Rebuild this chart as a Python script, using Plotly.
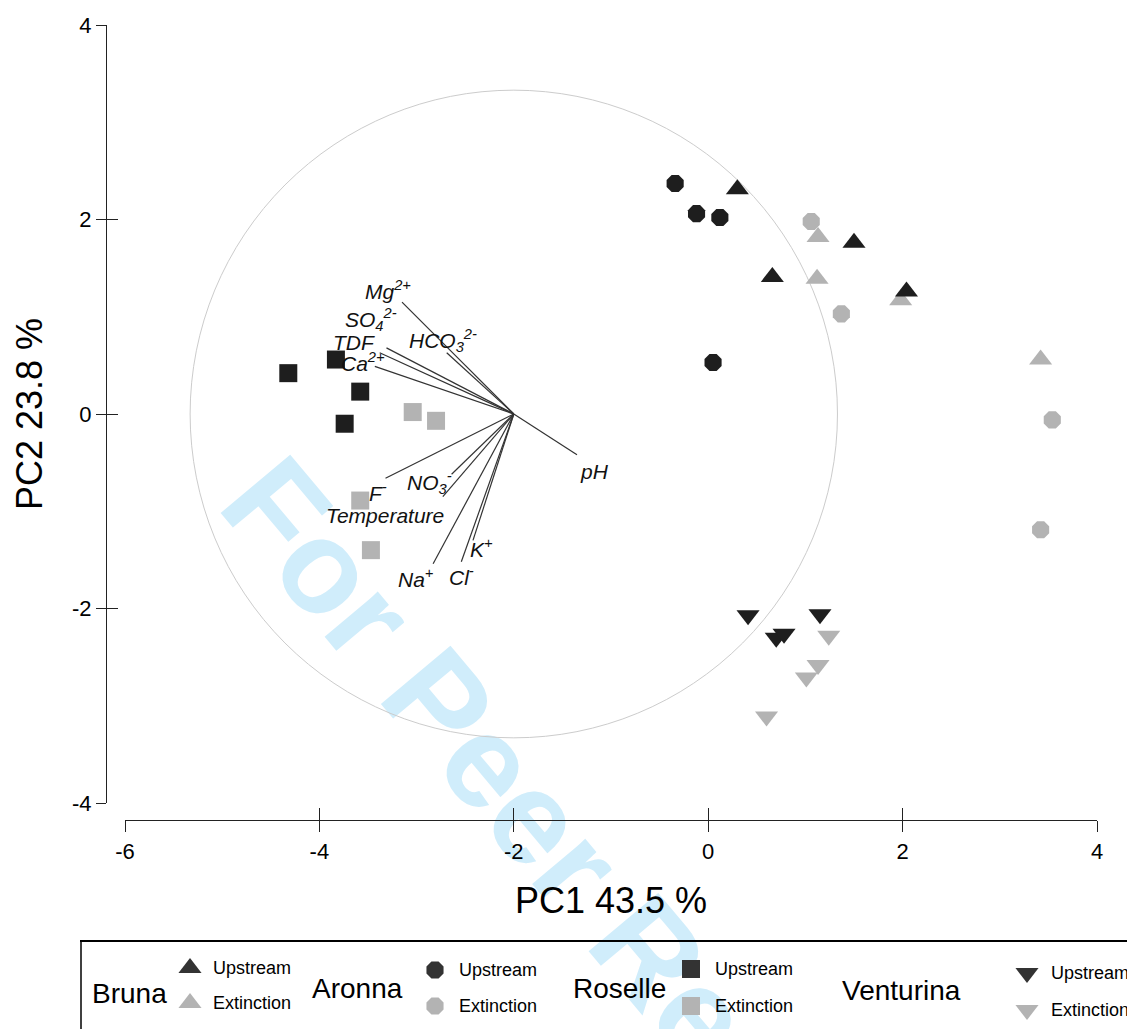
import plotly.graph_objects as go

W, H = 1127, 1029
FONT = "Liberation Sans, Arial, sans-serif"

# ---------------- data (PC scores) ----------------
bruna_up_x = [0.30, 0.66, 1.50, 2.04]
bruna_up_y = [2.31, 1.41, 1.76, 1.26]
bruna_ext_x = [1.13, 1.12, 1.98, 3.42]
bruna_ext_y = [1.82, 1.39, 1.17, 0.56]

aronna_up_x = [-0.34, -0.12, 0.12, 0.05]
aronna_up_y = [2.37, 2.06, 2.02, 0.53]
aronna_ext_x = [1.06, 1.37, 3.54, 3.42]
aronna_ext_y = [1.98, 1.03, -0.06, -1.19]

roselle_up_x = [-4.32, -3.83, -3.58, -3.74]
roselle_up_y = [0.42, 0.56, 0.23, -0.10]
roselle_ext_x = [-3.04, -2.80, -3.58, -3.47]
roselle_ext_y = [0.02, -0.07, -0.89, -1.40]

venturina_up_x = [0.41, 0.70, 0.78, 1.15]
venturina_up_y = [-2.07, -2.30, -2.26, -2.06]
venturina_ext_x = [1.24, 1.13, 1.01, 0.60]
venturina_ext_y = [-2.28, -2.58, -2.71, -3.11]

# ---------------- loadings (relative to correlation-circle centre) ----------------
circle_center = (-2.0, 0.0)
circle_radius = 3.33
variables = ["Mg<sup>2+</sup>", "SO<sub>4</sub><sup>2-</sup>", "TDF", "Ca<sup>2+</sup>",
             "HCO<sub>3</sub><sup>2-</sup>", "pH", "F<sup>-</sup>", "NO<sub>3</sub><sup>-</sup>",
             "Temperature", "K<sup>+</sup>", "Na<sup>+</sup>", "Cl<sup>-</sup>"]
load_pc1 = [-1.15, -1.31, -1.38, -1.43, -0.69, 0.65, -1.32, -0.64, -0.73, -0.42, -0.83, -0.54]
load_pc2 = [1.15, 0.68, 0.63, 0.49, 0.63, -0.42, -0.66, -0.62, -0.85, -1.30, -1.54, -1.52]
# label offsets in pixels (x right, y up)
label_dx = [-14, -15, -26, -12, -4, 18, -8, -22, -58, 9, -17, 0]
label_dy = [12, 28, 10, 4, 12, -17, -14, -8, -19, -8, -14, -14]

x_ticks = [-6, -4, -2, 0, 2, 4]
x_tick_text = ["-6", "-4", "-2", "0", "2", "4"]
y_ticks = [-4, -2, 0, 2, 4]
y_tick_text = ["-4", "-2", "0", "2", "4"]

DARK = "#1e1e1e"
GRAY = "#b3b3b3"
LEG_DARK = "#333333"

# extinction series first so upstream markers sit on top
series = [
    ("Bruna Extinction", bruna_ext_x, bruna_ext_y, "triangle-up", GRAY, 20),
    ("Aronna Extinction", aronna_ext_x, aronna_ext_y, "octagon", GRAY, 18.5),
    ("Roselle Extinction", roselle_ext_x, roselle_ext_y, "square", GRAY, 18),
    ("Venturina Extinction", venturina_ext_x, venturina_ext_y, "triangle-down", GRAY, 20),
    ("Bruna Upstream", bruna_up_x, bruna_up_y, "triangle-up", DARK, 20),
    ("Aronna Upstream", aronna_up_x, aronna_up_y, "octagon", DARK, 18.5),
    ("Roselle Upstream", roselle_up_x, roselle_up_y, "square", DARK, 18),
    ("Venturina Upstream", venturina_up_x, venturina_up_y, "triangle-down", DARK, 20),
]

fig = go.Figure()

# loading vectors
lx, ly = [], []
for a, b in zip(load_pc1, load_pc2):
    lx += [circle_center[0], circle_center[0] + a, None]
    ly += [circle_center[1], circle_center[1] + b, None]
fig.add_trace(go.Scatter(x=lx, y=ly, mode="lines", line=dict(color="#333333", width=1.2),
                         hoverinfo="skip", showlegend=False))

for name, xs, ys, sym, col, sz in series:
    fig.add_trace(go.Scatter(x=xs, y=ys, mode="markers", name=name, showlegend=False,
                             marker=dict(symbol=sym, color=col, size=sz, line=dict(width=0))))

# overlay axes for the inner half of the crossing ticks
fig.add_trace(go.Scatter(x=[], y=[], xaxis="x2", yaxis="y2", showlegend=False))

# ---------------- custom legend (drawn on a helper axis in pixel units) ----------------
group_names = ["Bruna", "Aronna", "Roselle", "Venturina"]
group_symbols = ["triangle-up", "octagon", "square", "triangle-down"]
group_sizes = [20, 18.5, 18, 20]
status_names = ["Upstream", "Extinction"]
leg_name_cx = [129, 357, 619, 901]
leg_name_cy = [993, 988, 988, 990]
leg_marker_x = [190, 435, 691, 1027]
leg_up_y = [968, 970, 969, 973]
leg_ext_y = [1003, 1006, 1006, 1010]
leg_text_x = [211, 457, 713, 1049]

for i, g in enumerate(group_names):
    for st, yy, col in ((status_names[0], leg_up_y[i], LEG_DARK), (status_names[1], leg_ext_y[i], GRAY)):
        fig.add_trace(go.Scatter(x=[leg_marker_x[i]], y=[yy], xaxis="x3", yaxis="y3",
                                 mode="markers", showlegend=False, hoverinfo="skip",
                                 marker=dict(symbol=group_symbols[i], color=col,
                                             size=group_sizes[i], line=dict(width=0))))
        fig.add_annotation(x=leg_text_x[i], y=yy, xref="x3", yref="y3", text=st,
                           showarrow=False, xanchor="left", yanchor="middle",
                           font=dict(family=FONT, size=18, color="#000000"))
    fig.add_annotation(x=leg_name_cx[i], y=leg_name_cy[i], xref="x3", yref="y3", text=g,
                       showarrow=False, xanchor="center", yanchor="middle",
                       font=dict(family=FONT, size=28, color="#000000"))

# variable labels
for i, v in enumerate(variables):
    fig.add_annotation(x=circle_center[0] + load_pc1[i], y=circle_center[1] + load_pc2[i],
                       xref="x", yref="y", text="<i>" + v + "</i>", showarrow=False,
                       xanchor="center", yanchor="middle", xshift=label_dx[i], yshift=label_dy[i],
                       font=dict(family=FONT, size=21, color="#111111"))

# watermark (drawn beneath everything)
fig.add_shape(type="rect", xref="paper", yref="paper",
              x0=540 / W, x1=640 / W, y0=1 - 912 / H, y1=1 - 812 / H,
              line=dict(width=0), fillcolor="rgba(0,0,0,0)", layer="below",
              label=dict(text="<b>For Peer Review</b>", textangle=50, textposition="middle center",
                         font=dict(family=FONT, size=132, color="#d0edfb")))

# correlation circle
fig.add_shape(type="circle", xref="x", yref="y",
              x0=circle_center[0] - circle_radius, x1=circle_center[0] + circle_radius,
              y0=circle_center[1] - circle_radius, y1=circle_center[1] + circle_radius,
              line=dict(color="#cccccc", width=1), layer="below")

# legend frame
fig.add_shape(type="line", xref="paper", yref="paper", x0=80 / W, x1=1.0,
              y0=1 - 941 / H, y1=1 - 941 / H, line=dict(color="#000000", width=2))
fig.add_shape(type="line", xref="paper", yref="paper", x0=81 / W, x1=81 / W,
              y0=1 - 941 / H, y1=0, line=dict(color="#000000", width=1.5))

AX = "#222222"
x_dom = [125 / W, 1097 / W]
y_dom = [1 - 803 / H, 1 - 25 / H]
x_pos = 1 - 820 / H
y_pos = 106 / W

fig.update_layout(
    width=W, height=H,
    margin=dict(l=0, r=0, t=0, b=0, pad=0),
    paper_bgcolor="white", plot_bgcolor="rgba(0,0,0,0)",
    font=dict(family=FONT, color="#000000"),
    xaxis=dict(domain=x_dom, range=[-6, 4], anchor="free", position=x_pos,
               showline=True, linecolor=AX, linewidth=1.3, ticks="outside", ticklen=11,
               tickwidth=1.3, tickcolor=AX, tickmode="array", tickvals=x_ticks, ticktext=x_tick_text,
               tickfont=dict(size=22, color="#000000"), showgrid=False, zeroline=False,
               automargin=False,
               title=dict(text="PC1 43.5 %", font=dict(size=36, color="#000000"), standoff=25)),
    yaxis=dict(domain=y_dom, range=[-4, 4], anchor="free", position=y_pos,
               showline=True, linecolor=AX, linewidth=1.3, ticks="outside", ticklen=10,
               tickwidth=1.3, tickcolor=AX, tickmode="array", tickvals=y_ticks, ticktext=y_tick_text,
               tickfont=dict(size=22, color="#000000"), showgrid=False, zeroline=False,
               automargin=False,
               title=dict(text="PC2 23.8 %", font=dict(size=36, color="#000000"), standoff=17)),
    xaxis2=dict(overlaying="x", range=[-6, 4], anchor="free", position=x_pos,
                showline=False, ticks="inside", ticklen=12, tickwidth=1.3, tickcolor=AX,
                tickmode="array", tickvals=x_ticks, showticklabels=False,
                showgrid=False, zeroline=False),
    yaxis2=dict(overlaying="y", range=[-4, 4], anchor="free", position=y_pos,
                showline=False, ticks="inside", ticklen=11, tickwidth=1.3, tickcolor=AX,
                tickmode="array", tickvals=y_ticks, showticklabels=False,
                showgrid=False, zeroline=False),
    xaxis3=dict(domain=[0, 1], range=[0, W], visible=False, anchor="y3", fixedrange=True),
    yaxis3=dict(domain=[0, 1], range=[H, 0], visible=False, anchor="x3", fixedrange=True),
)

fig.write_html("out.html", config={"displayModeBar": False},
               post_script="document.body.style.margin='0px';document.body.style.overflow='hidden';")
